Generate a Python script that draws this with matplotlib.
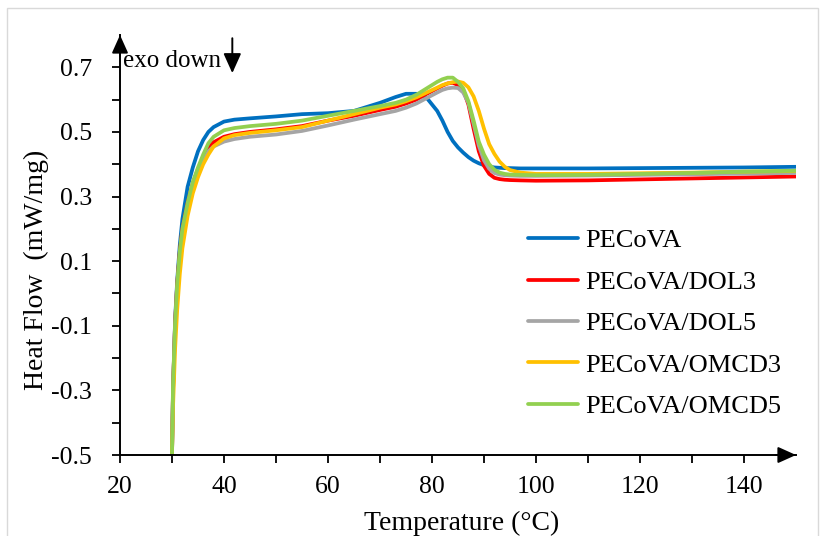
import matplotlib
matplotlib.use('Agg')
import matplotlib.pyplot as plt
from matplotlib.patches import Rectangle
from matplotlib.ticker import FixedLocator

plt.rcParams['font.family'] = 'Liberation Serif'
plt.rcParams['axes.unicode_minus'] = False

# DSC heating curves
temp = [30, 30.2, 30.6, 31, 31.5, 32, 33, 34, 35, 36, 37, 38, 40, 42, 45, 50, 55, 60, 65, 70,
        73, 75, 77, 79, 81, 82, 83, 84, 85, 86, 87, 88, 89, 90, 91, 92, 93, 94, 95, 97,
        100, 110, 120, 130, 140, 150]

pecova = [-0.50, -0.30, -0.08, 0.04, 0.15, 0.23, 0.33, 0.39, 0.44, 0.475, 0.50, 0.515, 0.532, 0.538, 0.542, 0.548, 0.555, 0.558, 0.565, 0.590,
          0.608, 0.618, 0.618, 0.605, 0.565, 0.535, 0.500, 0.472, 0.452, 0.436, 0.422, 0.411, 0.403, 0.397, 0.393, 0.390, 0.389, 0.388, 0.388, 0.387,
          0.387, 0.387, 0.388, 0.389, 0.390, 0.392]
dol3 = [-0.50, -0.29, -0.09, 0.03, 0.13, 0.20, 0.28, 0.34, 0.385, 0.42, 0.45, 0.468, 0.485, 0.493, 0.500, 0.508, 0.518, 0.535, 0.550, 0.568,
        0.578, 0.588, 0.600, 0.618, 0.635, 0.643, 0.650, 0.652, 0.645, 0.630, 0.585, 0.510, 0.440, 0.395, 0.370, 0.358, 0.354, 0.352, 0.351, 0.350,
        0.349, 0.350, 0.353, 0.356, 0.359, 0.362]
dol5 = [-0.50, -0.30, -0.10, 0.02, 0.12, 0.19, 0.27, 0.33, 0.375, 0.41, 0.44, 0.455, 0.470, 0.478, 0.485, 0.492, 0.503, 0.520, 0.538, 0.555,
        0.565, 0.575, 0.588, 0.605, 0.622, 0.630, 0.635, 0.637, 0.636, 0.622, 0.590, 0.525, 0.458, 0.412, 0.386, 0.373, 0.368, 0.366, 0.365, 0.364,
        0.364, 0.365, 0.367, 0.369, 0.371, 0.373]
omcd3 = [-0.50, -0.35, -0.17, -0.05, 0.06, 0.14, 0.24, 0.31, 0.36, 0.40, 0.43, 0.455, 0.480, 0.490, 0.497, 0.505, 0.515, 0.535, 0.555, 0.575,
         0.585, 0.595, 0.607, 0.622, 0.637, 0.645, 0.650, 0.654, 0.656, 0.652, 0.638, 0.610, 0.565, 0.510, 0.462, 0.432, 0.408, 0.392, 0.382, 0.374,
         0.370, 0.370, 0.372, 0.374, 0.377, 0.379]
omcd5 = [-0.50, -0.28, -0.09, 0.03, 0.13, 0.20, 0.28, 0.345, 0.39, 0.43, 0.465, 0.485, 0.505, 0.512, 0.518, 0.525, 0.535, 0.550, 0.565, 0.580,
         0.590, 0.600, 0.615, 0.635, 0.655, 0.663, 0.668, 0.668, 0.655, 0.635, 0.595, 0.535, 0.470, 0.430, 0.400, 0.383, 0.374, 0.370, 0.368, 0.367,
         0.366, 0.367, 0.370, 0.373, 0.377, 0.380]

series = [('PECoVA', pecova, '#0070C0'),
          ('PECoVA/DOL3', dol3, '#FF0000'),
          ('PECoVA/DOL5', dol5, '#A5A5A5'),
          ('PECoVA/OMCD3', omcd3, '#FFC000'),
          ('PECoVA/OMCD5', omcd5, '#92D050')]

W, H = 825, 536
fig = plt.figure(figsize=(W / 100, H / 100), dpi=100)
ax = fig.add_axes([120 / W, 1 - 455 / H, (796 - 120) / W, (455 - 35) / H])

for name, vals, col in series:
    ax.plot(temp, vals, color=col, lw=2.7, label=name, solid_capstyle='round')

ax.set_xlim(20, 150)
ax.set_ylim(-0.5, 0.8)
ax.xaxis.set_major_locator(FixedLocator([20, 40, 60, 80, 100, 120, 140]))
ax.xaxis.set_minor_locator(FixedLocator([30, 50, 70, 90, 110, 130]))
ax.yaxis.set_major_locator(FixedLocator([-0.5, -0.3, -0.1, 0.1, 0.3, 0.5, 0.7]))
ax.yaxis.set_minor_locator(FixedLocator([-0.4, -0.2, 0.0, 0.2, 0.4, 0.6]))
ax.set_yticklabels(['-0.5', '-0.3', '-0.1', '0.1', '0.3', '0.5', '0.7'])

for s in ['top', 'right']:
    ax.spines[s].set_visible(False)
for s in ['left', 'bottom']:
    ax.spines[s].set_linewidth(1.4)

ax.tick_params(axis='both', which='both', direction='out', length=6, width=1.3, labelsize=18.5)
ax.tick_params(axis='x', which='both', pad=9)
ax.tick_params(axis='y', which='both', pad=14)

# arrow heads on the axes
head = dict(arrowstyle='-|>,head_length=1.0,head_width=0.45', color='black', lw=1.4,
            mutation_scale=11, shrinkA=0, shrinkB=0)
ax.annotate('', xy=(1, 0), xytext=(0.97, 0), xycoords='axes fraction', arrowprops=head, annotation_clip=False)
ax.annotate('', xy=(0, 1), xytext=(0, 0.95), xycoords='axes fraction', arrowprops=head, annotation_clip=False)

# exo down marker
ax.text(20.6, 0.70, 'exo down', fontsize=18, va='baseline', ha='left')
ax.annotate('', xy=(41.6, 0.682), xytext=(41.6, 0.79), arrowprops=dict(arrowstyle='-|>,head_length=1.0,head_width=0.45',
            color='black', lw=1.4, mutation_scale=12, shrinkA=0, shrinkB=0))

fig.text(462 / W, 1 - 530 / H, 'Temperature (°C)', fontsize=20, ha='center', va='baseline')
fig.text(36 / W, 1 - 270 / H, 'Heat Flow  (mW/mg)', fontsize=20, ha='center', va='center', rotation=90)

ax.legend(loc='upper left', bbox_to_anchor=(528 / W, 1 - 229 / H), bbox_transform=fig.transFigure,
          frameon=False, fontsize=19, handlelength=1.9, handletextpad=0.25, labelspacing=0.68,
          borderpad=0, borderaxespad=0)

# light chart-area border
fig.patches.append(Rectangle((7 / W, -0.05), (818 - 7) / W, 1.05 - 8 / H, transform=fig.transFigure,
                             fill=False, edgecolor='#D9D9D9', lw=1))

fig.savefig('out.png', dpi=100)
